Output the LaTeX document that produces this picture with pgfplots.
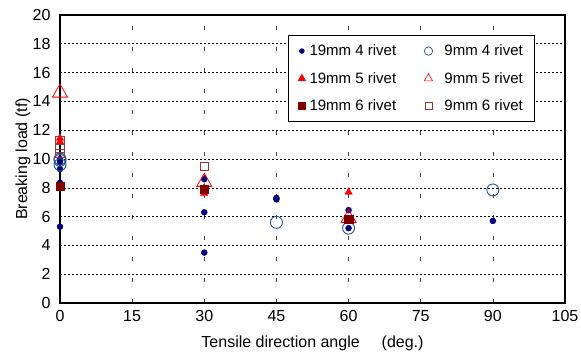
\documentclass[border=0pt]{standalone}
\usepackage{pgfplots}
\pgfplotsset{compat=1.18}
\usepackage{fontspec}
\setmainfont{Liberation Sans}
\definecolor{navydot}{RGB}{0,0,128}
\definecolor{circblue}{RGB}{31,84,140}
\definecolor{darkred}{RGB}{128,0,0}
\definecolor{sqred}{RGB}{160,50,50}
\begin{document}
\begin{tikzpicture}
\path[use as bounding box] (-60pt,-53pt) rectangle (521pt,303pt);
\begin{axis}[
  scale only axis, width=505pt, height=288pt,
  xmin=0, xmax=105, ymin=0, ymax=20,
  xtick={0,15,...,105}, ytick={0,2,...,20},
  axis line style={line width=1.2pt},
  tick style={draw=none},
  grid=major,
  x grid style={black!75, dash pattern=on 4pt off 17pt, line width=0.7pt},
  y grid style={black, dash pattern=on 2pt off 2pt, line width=0.6pt},
  /pgf/number format/assume math mode=true,
  tick label style={font=\fontsize{16}{19}\selectfont},
  xticklabel style={yshift=-4pt},
  yticklabel style={xshift=-6pt},
  label style={font=\fontsize{16}{19}\selectfont},
  xlabel={Tensile direction angle\hspace{22pt}(deg.)},
  ylabel={Breaking load (tf)},
  xlabel style={at={(axis description cs:0.5,-0.139)}, anchor=center},
  ylabel style={at={(axis description cs:-0.0733,0.5)}, anchor=center},
  legend columns=2,
  legend style={at={(0.4515,0.9306)}, anchor=north west, draw=black, line width=0.8pt,
    font=\fontsize{15}{18}\selectfont, row sep=11pt, inner xsep=10pt, inner ysep=7.5pt,
    /tikz/column 1/.style={column sep=2.2pt},
    /tikz/column 2/.style={column sep=26pt},
    /tikz/column 3/.style={column sep=9.8pt}},
  legend cell align=left,
]
\addplot[only marks, mark=*, mark size=3pt, color=navydot, mark options={fill=navydot}, legend image post style={mark size=2.3pt}]
  coordinates {(0,5.3) (0,8.0) (0,8.35) (0,9.3) (0,9.8) (0,10.0) (30,3.5) (30,6.3) (30,8.6) (45,7.2) (45,7.3) (60,5.2) (60,6.45) (90,5.7)};
\addlegendentry{19mm 4 rivet}
\addplot[only marks, mark=o, mark size=6pt, color=circblue, line width=0.9pt, legend image post style={mark size=4.2pt, line width=0.7pt}]
  coordinates {(0,9.6) (0,9.9) (0,10.0) (45,5.6) (60,5.2) (90,7.85)};
\addlegendentry{9mm 4 rivet}
\addplot[only marks, mark=triangle*, mark size=4.3pt, color=red, mark options={fill=red}, legend image post style={mark size=4pt}]
  coordinates {(0,11.45) (0,11.2) (30,7.6) (30,8.0) (60,7.7)};
\addlegendentry{19mm 5 rivet}
\addplot[only marks, mark=triangle, mark size=8.7pt, color=red, line width=0.8pt, legend image post style={mark size=4.8pt, line width=0.6pt}]
  coordinates {(0,14.6) (30,8.4) (60,5.9)};
\addlegendentry{9mm 5 rivet}
\addplot[only marks, mark=square*, mark size=4.2pt, color=darkred, mark options={fill=darkred}, legend image post style={mark size=3.4pt}]
  coordinates {(0,8.1) (30,7.9) (60,5.8)};
\addlegendentry{19mm 6 rivet}
\addplot[only marks, mark=square, mark size=4.2pt, color=sqred, line width=0.8pt, legend image post style={mark size=3.4pt, line width=0.6pt}]
  coordinates {(0,11.3) (0,10.75) (0,10.4) (30,9.5)};
\addlegendentry{9mm 6 rivet}
\end{axis}
\end{tikzpicture}
\end{document}
